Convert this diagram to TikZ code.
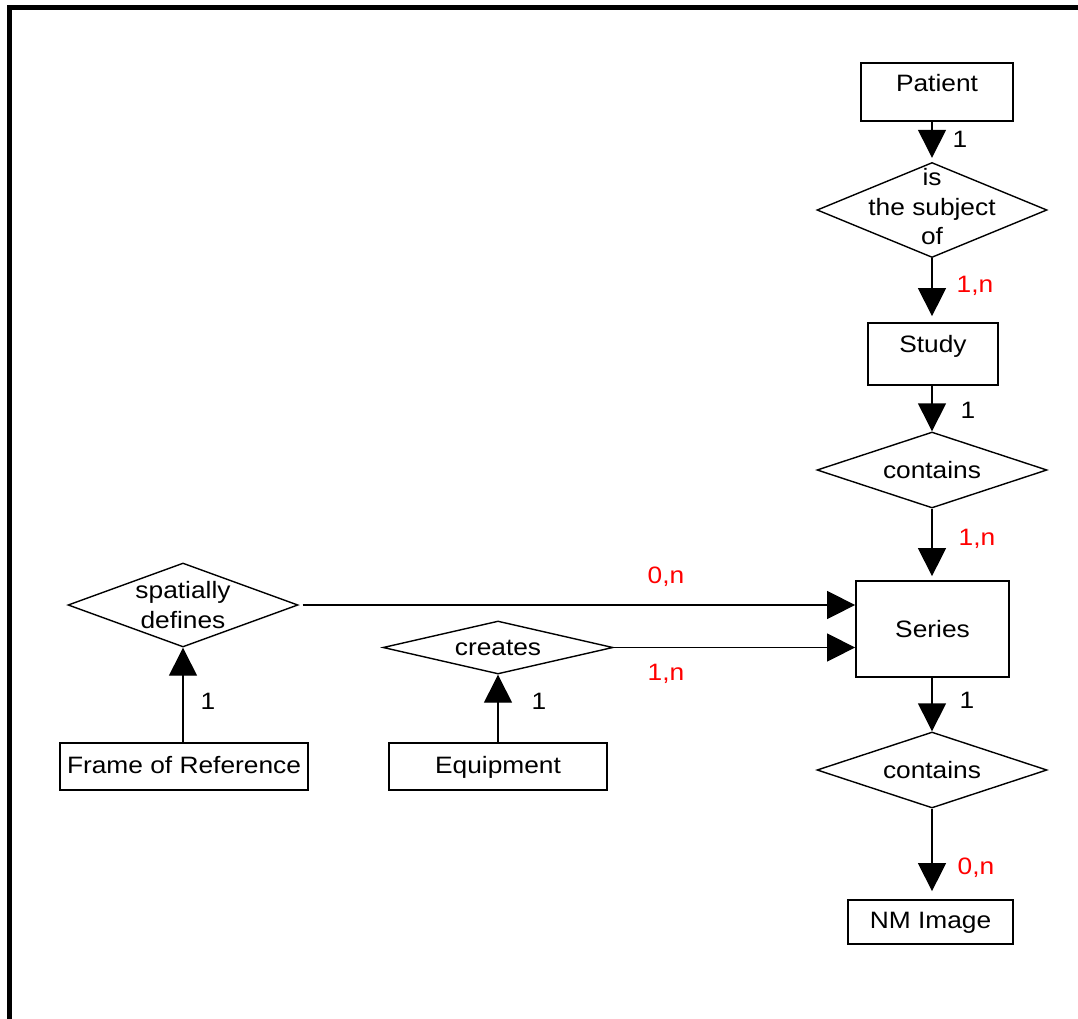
\documentclass[tikz,border=0pt]{standalone}
\usepackage{fontspec}
\setmainfont{Liberation Sans}[FakeStretch=1.11]
\usetikzlibrary{arrows.meta, shapes.geometric}

\begin{document}
\begin{tikzpicture}
            [x=1pt, y=-1pt, line width=1.4pt,
             font=\fontsize{23.7}{29.5}\selectfont,
             entity/.style={draw, line width=1.8pt, inner sep=0pt, text height=17pt, text depth=4pt},
             relation/.style={diamond, draw, inner sep=0pt, minimum width=230pt},
             reltext/.style={align=center, inner sep=0pt},
             card/.style={inner sep=0pt, text height=17pt, text depth=0pt},
             many/.style={card, text=red},
             >={Triangle[length=28pt, width=28pt]}]

            \useasboundingbox (0,0) rectangle (1078,1019);
            \draw[line width=5.5pt] (1078,7.5) -- (9.5,7.5) -- (9.5,1019);

            \node[entity, minimum width=152pt, minimum height=58pt, text depth=17pt] (patient) at (937,92) {Patient};
            \node[entity, minimum width=130pt, minimum height=62pt, text depth=21pt] (study) at (933,354) {Study};
            \node[entity, minimum width=153pt, minimum height=96pt, text depth=0pt] (series) at (932.5,629) {Series};
            \node[entity, minimum width=165pt, minimum height=44pt] (nmimage) at (930.5,922) {NM Image};
            \node[entity, minimum width=248pt, minimum height=47pt] (frame) at (184,766.5) {Frame of Reference};
            \node[entity, minimum width=218pt, minimum height=47pt] (equipment) at (498,766.5) {Equipment};

            \node[relation, minimum height=95pt] (subject) at (932,210) {};
            \node[reltext, yshift=3pt] (subject-txt) at (subject) {is\\the subject\\of};
            \node[relation, minimum height=76pt] (contains) at (932,470) {};
            \node[reltext] (contains-txt) at (contains) {contains};
            \node[relation, minimum height=76pt] (contains2) at (932,770) {};
            \node[reltext] (contains2-txt) at (contains2) {contains};
            \node[relation, minimum height=84pt] (spatially) at (183,605) {};
            \node[reltext] (spatially-txt) at (spatially) {spatially\\defines};
            \node[relation, minimum height=53pt] (creates) at (498,647.5) {};
            \node[reltext] (creates-txt) at (creates) {creates};

            \draw[->, shorten >=4pt] (subject.north |- patient.south) -- (subject.north);
            \draw[->, shorten >=6pt] (subject.south) -- (subject.south |- study.north);
            \draw[->] (contains.north |- study.south) -- (contains.north);
            \draw[->, shorten >=4pt] (contains.south) -- (contains.south |- series.north);
            \draw[->] (contains2.north |- series.south) -- (contains2.north);
            \draw[->, shorten >=8pt] (contains2.south) -- (contains2.south |- nmimage.north);
            \draw[->] (spatially.south |- frame.north) -- (spatially.south);
            \draw[->] (creates.south |- equipment.north) -- (creates.south);
            \draw[->, shorten <=4pt] (spatially.east) -- (spatially.east -| series.west);
            \draw[->] (creates.east) -- (creates.east -| series.west);

            \node[card] (patient-card) at (960,139.5) {1};
            \node[many] (study-card) at (975,284) {1,n};
            \node[card] (study-card2) at (968,410) {1};
            \node[many] (series-card) at (977,536.5) {1,n};
            \node[many] (frame-card) at (666,574.5) {0,n};
            \node[many] (equipment-card) at (666,672) {1,n};
            \node[card] (series-card2) at (967,699.5) {1};
            \node[many] (nmimage-card) at (976,866) {0,n};
            \node[card] (frame-card2) at (208,700.5) {1};
            \node[card] (equipment-card2) at (539,700.5) {1};
        \end{tikzpicture}
\end{document}
